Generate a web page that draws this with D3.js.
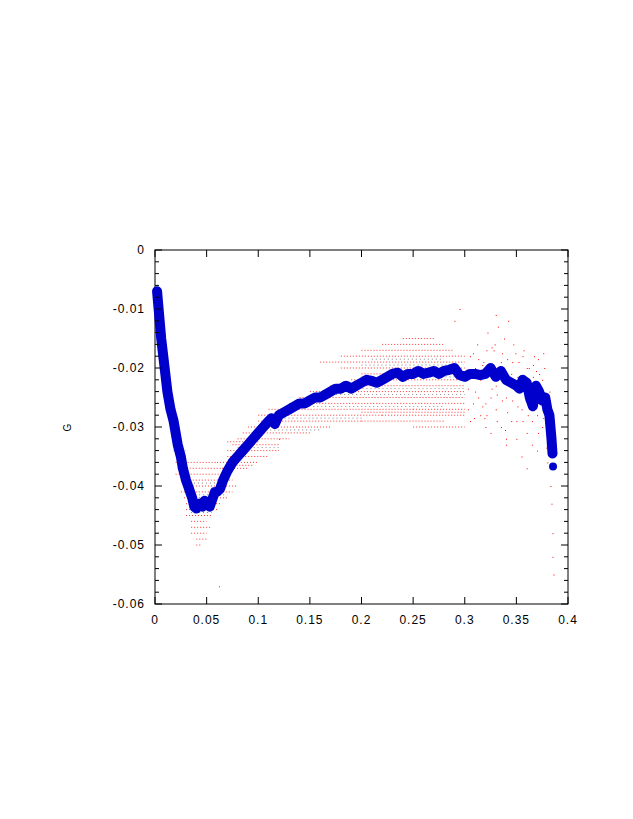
<!DOCTYPE html>
<html><head><meta charset="utf-8">
<script src="https://cdn.jsdelivr.net/npm/d3@7"></script>
<style>body{margin:0;background:#fff}text{font-family:"Liberation Sans",sans-serif;font-size:12px;letter-spacing:1px}</style>
</head><body><svg id="c" width="633" height="819"></svg>
<script>
const xTicks=[0,0.05,0.1,0.15,0.2,0.25,0.3,0.35,0.4];
const yTicks=[0,-0.01,-0.02,-0.03,-0.04,-0.05,-0.06];
const blueX=[0.002,0.003,0.004,0.005,0.006,0.008,0.010,0.012,0.015,0.018,0.020,0.022,0.025,0.027,0.030,0.033,0.036,0.038,0.040,0.043,0.046,0.048,0.050,0.053,0.056,0.058,0.060,0.063,0.066,0.070,0.075,0.080,0.085,0.090,0.095,0.100,0.105,0.110,0.113,0.116,0.120,0.125,0.130,0.135,0.140,0.145,0.150,0.155,0.160,0.165,0.170,0.175,0.180,0.185,0.190,0.195,0.200,0.205,0.210,0.215,0.220,0.225,0.230,0.235,0.240,0.245,0.250,0.255,0.260,0.265,0.270,0.275,0.280,0.285,0.290,0.295,0.300,0.305,0.310,0.315,0.320,0.325,0.330,0.335,0.340,0.345,0.350,0.353,0.356,0.360,0.363,0.366,0.369,0.372,0.375,0.378,0.380,0.382,0.383,0.384,0.385,0.3855];
const blueY=[-0.007,-0.009,-0.011,-0.013,-0.015,-0.018,-0.021,-0.024,-0.027,-0.029,-0.031,-0.033,-0.035,-0.037,-0.039,-0.0405,-0.042,-0.0435,-0.0438,-0.043,-0.0435,-0.0425,-0.043,-0.0435,-0.042,-0.041,-0.041,-0.0405,-0.039,-0.0375,-0.036,-0.035,-0.034,-0.033,-0.032,-0.031,-0.030,-0.029,-0.0285,-0.0295,-0.028,-0.0275,-0.027,-0.0265,-0.026,-0.026,-0.0255,-0.025,-0.025,-0.0245,-0.024,-0.0235,-0.0235,-0.023,-0.0235,-0.023,-0.0225,-0.022,-0.0222,-0.0225,-0.022,-0.0215,-0.021,-0.0208,-0.0215,-0.021,-0.021,-0.0205,-0.021,-0.0208,-0.0205,-0.021,-0.0205,-0.0203,-0.020,-0.0212,-0.0215,-0.021,-0.021,-0.0212,-0.021,-0.020,-0.0215,-0.0205,-0.022,-0.0225,-0.023,-0.0235,-0.022,-0.0225,-0.025,-0.0265,-0.023,-0.024,-0.0255,-0.025,-0.027,-0.028,-0.030,-0.032,-0.0345,-0.0367];
const redRows=[[-0.034,0.018,0.03],[-0.036,0.02,0.06],[-0.037,0.022,0.065],[-0.038,0.02,0.07],[-0.039,0.025,0.075],[-0.040,0.028,0.08],[-0.041,0.025,0.075],[-0.042,0.028,0.07],[-0.043,0.03,0.065],[-0.044,0.03,0.06],[-0.045,0.03,0.055],[-0.046,0.035,0.05],[-0.047,0.035,0.055],[-0.048,0.035,0.05],[-0.049,0.04,0.05],[-0.050,0.04,0.045],
[-0.035,0.07,0.11],[-0.034,0.07,0.12],[-0.033,0.075,0.12],[-0.032,0.08,0.13],[-0.031,0.085,0.15],[-0.030,0.09,0.17],[-0.029,0.1,0.2],[-0.028,0.1,0.22],[-0.027,0.11,0.25],[-0.026,0.13,0.3],[-0.025,0.14,0.3],[-0.024,0.15,0.3],[-0.023,0.17,0.3],[-0.022,0.19,0.3],[-0.021,0.2,0.3],[-0.020,0.18,0.3],[-0.019,0.16,0.3],[-0.018,0.18,0.3],[-0.017,0.2,0.29],[-0.016,0.22,0.28],[-0.015,0.24,0.27],
[-0.028,0.22,0.3],[-0.027,0.25,0.3],[-0.0275,0.2,0.3],[-0.029,0.2,0.28],[-0.030,0.25,0.3],[-0.036,0.06,0.1],[-0.037,0.065,0.09],[-0.0365,0.07,0.095],[-0.0325,0.07,0.1]];
const blackRows=[[-0.0395,0.03,0.07],[-0.0415,0.035,0.07],[-0.0445,0.035,0.055],[-0.0335,0.08,0.12],[-0.0305,0.1,0.16],[-0.0285,0.11,0.2],[-0.0265,0.13,0.28],[-0.0245,0.16,0.3],[-0.0235,0.17,0.3],[-0.0215,0.2,0.3],[-0.0195,0.2,0.29],[-0.0185,0.21,0.28]];
const scatX=[0.305,0.31,0.312,0.315,0.318,0.32,0.322,0.325,0.328,0.33,0.332,0.335,0.338,0.34,0.342,0.345,0.347,0.35,0.352,0.355,0.357,0.36,0.362,0.365,0.367,0.37,0.372,0.375,0.377,0.38,0.382,0.305,0.31,0.315,0.32,0.325,0.33,0.335,0.34,0.345,0.35,0.355,0.36,0.365,0.37,0.375,0.38,0.383,0.384,0.385,0.29,0.295,0.33,0.34,0.36,0.385,0.386,0.384,0.062,0.12,
0.303,0.308,0.313,0.317,0.321,0.326,0.331,0.336,0.341,0.346,0.351,0.356,0.361,0.366,0.371,0.376,0.303,0.308,0.313,0.317,0.321,0.326,0.331,0.336,0.341,0.346,0.351,0.356,0.361,0.366,0.371,0.376,0.309,0.319,0.329,0.339,0.349,0.359,0.369,0.379];
const scatY=[-0.018,-0.024,-0.016,-0.028,-0.019,-0.026,-0.014,-0.031,-0.017,-0.027,-0.013,-0.03,-0.015,-0.025,-0.012,-0.029,-0.016,-0.032,-0.019,-0.027,-0.017,-0.031,-0.02,-0.029,-0.018,-0.034,-0.021,-0.03,-0.02,-0.036,-0.024,-0.029,-0.02,-0.022,-0.03,-0.025,-0.023,-0.019,-0.032,-0.021,-0.029,-0.035,-0.02,-0.033,-0.028,-0.022,-0.026,-0.04,-0.043,-0.052,-0.012,-0.01,-0.011,-0.033,-0.037,-0.048,-0.055,-0.031,-0.057,-0.032,
-0.0235,-0.026,-0.0185,-0.0265,-0.017,-0.0235,-0.0245,-0.0175,-0.0275,-0.019,-0.0265,-0.018,-0.028,-0.0215,-0.0185,-0.0285,-0.027,-0.0175,-0.025,-0.0195,-0.028,-0.0165,-0.029,-0.0255,-0.0185,-0.0255,-0.0215,-0.029,-0.0245,-0.0195,-0.031,-0.0175,-0.0285,-0.0285,-0.016,-0.0305,-0.0175,-0.0255,-0.0205,-0.0335];
const svg=d3.select("#c");
const x=d3.scaleLinear().domain([0,0.4]).range([155,568]);
const y=d3.scaleLinear().domain([-0.06,0]).range([604,250]);
svg.append("rect").attr("x",155).attr("y",250).attr("width",413).attr("height",354).attr("fill","none").attr("stroke","#000");
const g=svg.append("g");
g.selectAll("line.r").data(redRows).join("line").attr("x1",d=>x(d[1])).attr("x2",d=>x(d[2])).attr("y1",d=>y(d[0])).attr("y2",d=>y(d[0])).attr("stroke","#f00").attr("stroke-width",1).attr("stroke-dasharray","1,2").attr("opacity",0.8);
g.selectAll("line.b").data(blackRows).join("line").attr("x1",d=>x(d[1])).attr("x2",d=>x(d[2])).attr("y1",d=>y(d[0])).attr("y2",d=>y(d[0])).attr("stroke","#000").attr("stroke-width",0.7).attr("stroke-dasharray","1,3").attr("opacity",0.7);
g.selectAll("rect.s").data(scatX).join("rect").attr("x",(d,i)=>x(d)).attr("y",(d,i)=>y(scatY[i])).attr("width",1).attr("height",1).attr("fill","#f00");
const pts=blueX.map((d,i)=>[d,blueY[i]]);
g.append("path").attr("d",d3.line().x(d=>x(d[0])).y(d=>y(d[1]))(pts.slice(0,-1))).attr("fill","none").attr("stroke","#0000cc").attr("stroke-width",10).attr("stroke-linejoin","round").attr("stroke-linecap","round");
g.selectAll("circle").data(pts).join("circle").attr("cx",d=>x(d[0])).attr("cy",d=>y(d[1])).attr("r",4).attr("fill","#0000cc");
const ax=svg.append("g");
xTicks.forEach(t=>{ax.append("line").attr("x1",x(t)).attr("x2",x(t)).attr("y1",604).attr("y2",597).attr("stroke","#000");
 ax.append("line").attr("x1",x(t)).attr("x2",x(t)).attr("y1",250).attr("y2",257).attr("stroke","#000");
 ax.append("text").attr("x",x(t)).attr("y",624).attr("text-anchor","middle").text(t);});
d3.range(0,31).forEach(i=>{const v=-i*0.002;const L=i%5==0?7:4;
 ax.append("line").attr("x1",155).attr("x2",155+L).attr("y1",y(v)).attr("y2",y(v)).attr("stroke","#000");
 ax.append("line").attr("x1",568).attr("x2",568-L).attr("y1",y(v)).attr("y2",y(v)).attr("stroke","#000");});
yTicks.forEach(t=>ax.append("text").attr("x",145).attr("y",y(t)+4).attr("text-anchor","end").text(t));
svg.append("text").attr("x",71).attr("y",427).attr("text-anchor","middle").attr("transform","rotate(-90,71,427)").style("font-size","10px").text("G");
</script></body></html>
